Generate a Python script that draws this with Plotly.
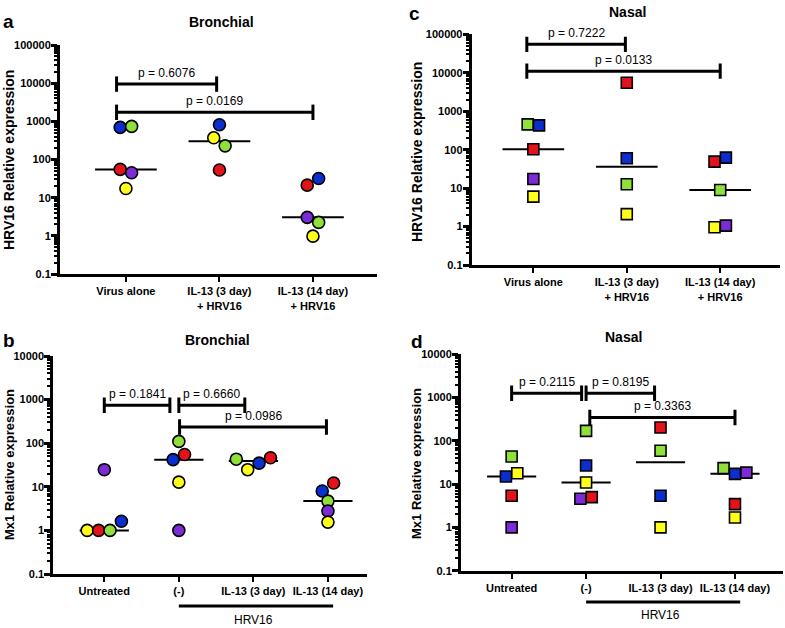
import numpy as np
import plotly.graph_objects as go

W, H = 785, 628

# ---------------- data ----------------
# donors: D1 red, D2 yellow, D3 green, D4 blue, D5 purple
y_tick_vals_5 = [0.1, 1, 10, 100, 1000, 10000, 100000]
y_tick_text_5 = ["0.1", "1", "10", "100", "1000", "10000", "100000"]
y_tick_vals_4 = [0.1, 1, 10, 100, 1000, 10000]
y_tick_text_4 = ["0.1", "1", "10", "100", "1000", "10000"]

# Panel a: bronchial HRV16
a_categories = ["Virus alone", "IL-13 (3 day)<br>+ HRV16", "IL-13 (14 day)<br>+ HRV16"]
a_virus_donors = ["D4", "D3", "D1", "D5", "D2"]
a_virus_values = [693, 737, 55, 45, 17.4]
a_il13_3d_donors = ["D4", "D2", "D3", "D1"]
a_il13_3d_values = [815, 370, 228, 53]
a_il13_14d_donors = ["D1", "D4", "D5", "D3", "D2"]
a_il13_14d_values = [21.3, 31.9, 3.05, 2.25, 0.98]
a_comparisons = [(0, 1, 9450, "p = 0.6076"), (0, 2, 1725, "p = 0.0169")]

# Panel b: bronchial Mx1
b_categories = ["Untreated", "(-)", "IL-13 (3 day)", "IL-13 (14 day)"]
b_untreated_donors = ["D2", "D1", "D3", "D4", "D5"]
b_untreated_values = [1.0, 1.0, 1.0, 1.62, 24.7]
b_minus_donors = ["D3", "D4", "D1", "D2", "D5"]
b_minus_values = [110, 42, 55, 12.8, 1.0]
b_il13_3d_donors = ["D3", "D2", "D4", "D1"]
b_il13_3d_values = [43, 24.7, 35, 46.5]
b_il13_14d_donors = ["D4", "D1", "D3", "D5", "D2"]
b_il13_14d_values = [8.0, 12.2, 4.7, 2.78, 1.55]
b_comparisons = [(0, 1, 740, "p = 0.1841"), (1, 2, 740, "p = 0.6660"), (1, 3, 235, "p = 0.0986")]

# Panel c: nasal HRV16
c_categories = ["Virus alone", "IL-13 (3 day)<br>+ HRV16", "IL-13 (14 day)<br>+ HRV16"]
c_virus_donors = ["D3", "D4", "D1", "D5", "D2"]
c_virus_values = [455, 428, 102, 17.3, 6.0]
c_il13_3d_donors = ["D1", "D4", "D3", "D2"]
c_il13_3d_values = [5500, 59.5, 12.6, 2.1]
c_il13_14d_donors = ["D1", "D4", "D3", "D2", "D5"]
c_il13_14d_values = [48.8, 62, 8.9, 0.96, 1.06]
c_comparisons = [(0, 1, 54800, "p = 0.7222"), (0, 2, 11000, "p = 0.0133")]

# Panel d: nasal Mx1
d_categories = ["Untreated", "(-)", "IL-13 (3 day)", "IL-13 (14 day)"]
d_untreated_donors = ["D3", "D4", "D2", "D1", "D5"]
d_untreated_values = [43.5, 15, 17.9, 5.4, 1.0]
d_minus_donors = ["D3", "D4", "D2", "D5", "D1"]
d_minus_values = [170, 27, 10.9, 4.6, 5.0]
d_il13_3d_donors = ["D1", "D3", "D4", "D2"]
d_il13_3d_values = [203, 59, 5.4, 1.0]
d_il13_14d_donors = ["D3", "D4", "D5", "D1", "D2"]
d_il13_14d_values = [23.4, 17.3, 18.5, 3.45, 1.7]
d_comparisons = [(0, 1, 1260, "p = 0.2115"), (1, 2, 1260, "p = 0.8195"), (1, 3, 347, "p = 0.3363")]

hrv16_span = (1, 3)

# ---------------- style ----------------
DONOR_COLORS = {"D1": "#e3121b", "D2": "#ffff1a", "D3": "#8fe03a", "D4": "#0b2fcf", "D5": "#7d2bd8"}
FONT = "Liberation Sans"


def px(x):
    return x / W


def py(y):
    return 1 - y / H


def swarm_offsets(values, thr=0.22):
    logs = np.log10(np.asarray(values, dtype=float))
    order = np.argsort(logs, kind="stable")
    clusters, cur = [], [order[0]]
    for prev, idx in zip(order[:-1], order[1:]):
        if logs[idx] - logs[prev] <= thr:
            cur.append(idx)
        else:
            clusters.append(cur)
            cur = [idx]
    clusters.append(cur)
    offs = np.zeros(len(values))
    for c in clusters:
        c = sorted(c)
        n = len(c)
        for k, idx in enumerate(c):
            offs[idx] = k - (n - 1) / 2
    return offs


panels = [
    dict(key="", label="a", title="Bronchial", ytitle="HRV16 Relative expression",
         dom_x=(60, 377), dom_y=(45, 274), xr=(-0.705, 2.685), yr=(-1, 5),
         cats=a_categories, ytv=y_tick_vals_5, ytt=y_tick_text_5,
         groups=[(a_virus_donors, a_virus_values), (a_il13_3d_donors, a_il13_3d_values),
                 (a_il13_14d_donors, a_il13_14d_values)],
         comps=a_comparisons, insets=[(-0.1, -0.03), (-0.1, 0.0)],
         symbol="circle", msize=12, label_xy=(8, 22), title_xy=(221, 22), ytitle_xy=(9, 160),
         ytsize=14, hrv=False),
    dict(key="2", label="b", title="Bronchial", ytitle="Mx1 Relative expression",
         dom_x=(53.3, 366.7), dom_y=(356, 574), xr=(-0.684, 3.52), yr=(-1, 4),
         cats=b_categories, ytv=y_tick_vals_4, ytt=y_tick_text_4,
         groups=[(b_untreated_donors, b_untreated_values), (b_minus_donors, b_minus_values),
                 (b_il13_3d_donors, b_il13_3d_values), (b_il13_14d_donors, b_il13_14d_values)],
         comps=b_comparisons, insets=[(0.0, -0.12), (0.0, -0.115), (0.01, -0.02)],
         symbol="circle", msize=12, label_xy=(9, 340), title_xy=(217, 340), ytitle_xy=(9, 465),
         ytsize=13, hrv=True, hrv_y=606, hrv_text_y=620),
    dict(key="3", label="c", title="Nasal", ytitle="HRV16 Relative expression",
         dom_x=(471.7, 780), dom_y=(34.3, 265), xr=(-0.66, 2.64), yr=(-1, 5),
         cats=c_categories, ytv=y_tick_vals_5, ytt=y_tick_text_5,
         groups=[(c_virus_donors, c_virus_values), (c_il13_3d_donors, c_il13_3d_values),
                 (c_il13_14d_donors, c_il13_14d_values)],
         comps=c_comparisons, insets=[(-0.07, -0.015), (-0.07, 0.0)],
         symbol="square", msize=11, label_xy=(414, 14), title_xy=(627, 12), ytitle_xy=(417, 152),
         ytsize=14, hrv=False),
    dict(key="4", label="d", title="Nasal", ytitle="Mx1 Relative expression",
         dom_x=(461, 783), dom_y=(354.3, 570.7), xr=(-0.68, 3.645), yr=(-1, 4),
         cats=d_categories, ytv=y_tick_vals_4, ytt=y_tick_text_4,
         groups=[(d_untreated_donors, d_untreated_values), (d_minus_donors, d_minus_values),
                 (d_il13_3d_donors, d_il13_3d_values), (d_il13_14d_donors, d_il13_14d_values)],
         comps=d_comparisons, insets=[(0.0, -0.06), (0.0, -0.08), (0.05, 0.0)],
         symbol="square", msize=11, label_xy=(417, 341), title_xy=(623, 337), ytitle_xy=(417, 464),
         ytsize=13, hrv=True, hrv_y=602, hrv_text_y=615),
]

fig = go.Figure()
annotations = []
shapes = []
layout_axes = {}

for p in panels:
    k = p["key"]
    xa, ya = "x" + k, "y" + k
    x0, x1 = p["dom_x"]
    ytop, ybot = p["dom_y"]
    px_per_cat = (x1 - x0) / (p["xr"][1] - p["xr"][0])
    spacing = 11.4 / px_per_cat

    # median lines (under markers)
    for gi, (donors, vals) in enumerate(p["groups"]):
        med = float(np.median(vals))
        fig.add_trace(go.Scatter(x=[gi - 0.33, gi + 0.33], y=[med, med], mode="lines",
                                 line=dict(color="black", width=2), xaxis=xa, yaxis=ya,
                                 showlegend=False, hoverinfo="skip"))
    # points
    for gi, (donors, vals) in enumerate(p["groups"]):
        offs = swarm_offsets(vals)
        fig.add_trace(go.Scatter(
            x=gi + offs * spacing, y=vals, mode="markers", xaxis=xa, yaxis=ya, showlegend=False,
            marker=dict(symbol=p["symbol"], size=p["msize"],
                        color=[DONOR_COLORS[d] for d in donors],
                        line=dict(color="black", width=1.6))))
    # comparison brackets
    for (i, j, level, text), (di, dj) in zip(p["comps"], p["insets"]):
        xs = [i + di, j + dj]
        fig.add_trace(go.Scatter(x=xs, y=[level, level], mode="lines+markers", xaxis=xa, yaxis=ya,
                                 showlegend=False, hoverinfo="skip",
                                 line=dict(color="black", width=3),
                                 marker=dict(symbol="line-ns", size=11,
                                             line=dict(color="black", width=3))))
        annotations.append(dict(x=(xs[0] + xs[1]) / 2, y=np.log10(level), xref=xa, yref=ya,
                                text=text, showarrow=False, xanchor="center", yanchor="bottom",
                                yshift=2, font=dict(family=FONT, size=12, color="black")))
    # HRV16 group bar
    if p["hrv"]:
        a0, a1 = hrv16_span
        shapes.append(dict(type="line", xref=xa, yref="paper", x0=a0, x1=a1 + 0.07,
                           y0=py(p["hrv_y"]), y1=py(p["hrv_y"]),
                           line=dict(color="black", width=3)))
        annotations.append(dict(x=(a0 + a1) / 2, y=py(p["hrv_text_y"]), xref=xa, yref="paper",
                                text="HRV16", showarrow=False, xanchor="center", yanchor="middle",
                                font=dict(family=FONT, size=12, color="black")))
    # texts
    lx, ly = p["label_xy"]
    annotations.append(dict(x=px(lx), y=py(ly), xref="paper", yref="paper", text="<b>%s</b>" % p["label"],
                            showarrow=False, xanchor="center", yanchor="middle",
                            font=dict(family=FONT, size=19, color="black")))
    tx, ty = p["title_xy"]
    annotations.append(dict(x=px(tx), y=py(ty), xref="paper", yref="paper", text="<b>%s</b>" % p["title"],
                            showarrow=False, xanchor="center", yanchor="middle",
                            font=dict(family=FONT, size=14, color="black")))
    yx, yy = p["ytitle_xy"]
    annotations.append(dict(x=px(yx), y=py(yy), xref="paper", yref="paper", text="<b>%s</b>" % p["ytitle"],
                            showarrow=False, textangle=-90, xanchor="center", yanchor="middle",
                            font=dict(family=FONT, size=p["ytsize"], color="black")))

    minor_vals = [m * 10.0 ** e for e in range(p["yr"][0], p["yr"][1]) for m in range(2, 10)]
    xname = "xaxis" + k
    yname = "yaxis" + k
    layout_axes[xname] = dict(
        domain=[px(x0), px(x1)], range=list(p["xr"]), anchor=ya, automargin=False,
        tickmode="array", tickvals=list(range(len(p["cats"]))), ticktext=p["cats"],
        showline=True, linecolor="black", linewidth=3, ticks="outside", ticklen=5, tickwidth=2,
        tickcolor="black", showgrid=False, zeroline=False,
        tickfont=dict(family=FONT, size=11, color="black", weight=700))
    layout_axes[yname] = dict(
        domain=[py(ybot), py(ytop)], type="log", range=list(p["yr"]), anchor=xa, automargin=False,
        tickmode="array", tickvals=p["ytv"], ticktext=p["ytt"],
        showline=True, linecolor="black", linewidth=3, ticks="outside", ticklen=6, tickwidth=2.5,
        tickcolor="black", showgrid=False, zeroline=False, ticklabelstandoff=-2,
        tickfont=dict(family=FONT, size=11, color="black", weight=700),
        minor=dict(tickvals=minor_vals, ticks="outside", ticklen=3, tickwidth=1.5,
                   tickcolor="black", showgrid=False))

fig.update_layout(
    width=W, height=H, margin=dict(l=0, r=0, t=0, b=0, autoexpand=False),
    paper_bgcolor="white", plot_bgcolor="white", showlegend=False,
    annotations=annotations, shapes=shapes, **layout_axes)

fig.write_html("out.html", config={"displayModeBar": False},
               post_script="document.body.style.margin='0';document.body.style.padding='0';")
